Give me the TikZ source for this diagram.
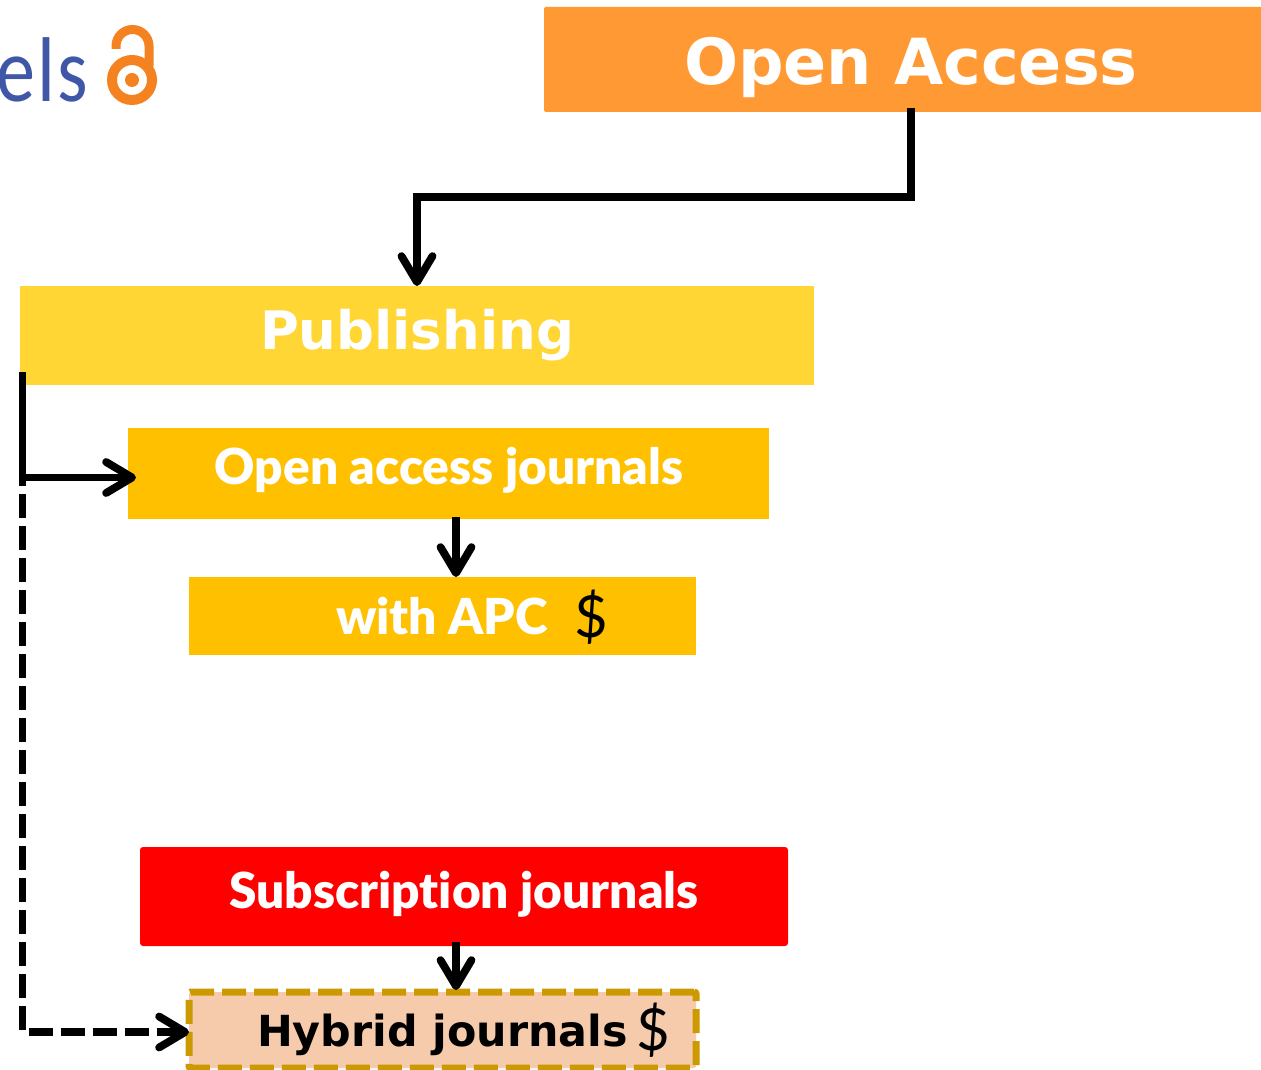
\documentclass[tikz,border=0pt]{standalone}
\usepackage{fontspec}
\usetikzlibrary{arrows.meta}
\setmainfont{DejaVu Sans}
\newfontfamily\gillfont{Lato}[BoldFont={Lato Black},RawFeature={-liga}]
\newfontfamily\dollarfont{Lato}
\newfontfamily\logofont{Carlito}[FakeStretch=0.85,LetterSpace=2]
\definecolor{oaorange}{HTML}{FF9933}
\definecolor{pubyellow}{HTML}{FFD633}
\definecolor{journalamber}{HTML}{FFC000}
\definecolor{hybridfill}{HTML}{F6CBAC}
\definecolor{hybridline}{HTML}{CC9900}
\definecolor{lockorange}{HTML}{F58220}
\definecolor{logoblue}{HTML}{3F57A6}

\begin{document}
\begin{tikzpicture}[
x=0.5pt, y=-0.5pt,
stepbox/.style={inner sep=0pt, outer sep=0pt},
title/.style={anchor=base, inner sep=0pt, text=white, font=\bfseries\fontsize{31.8}{36}\selectfont},
gilltitle/.style={anchor=base, inner sep=0pt, text=white, font=\gillfont\bfseries\fontsize{24.8}{30}\selectfont},
dollar/.style={anchor=base, inner sep=0pt, font=\dollarfont\fontsize{29}{36}\selectfont},
link/.style={line width=3.9pt, -{Straight Barb[length=13pt,width=15.5pt,round]}},
dashlink/.style={link, dash pattern=on 12pt off 4pt}
]
\useasboundingbox (0,0) rectangle (1261,1069);
\clip (0,0) rectangle (1261,1069);

% logo
\node[anchor=base east, inner sep=0pt, text=logoblue, font=\logofont\fontsize{46}{50}\selectfont](logo_text) at (88,102){els};
\draw[lockorange, line width=5pt] (132,80) circle (20);
\fill[lockorange] (132,80) circle (7);
\draw[lockorange, line width=4.5pt] (116,49) -- (116,46) arc (180:360:16.5) -- (149,66);

% boxes
\node[stepbox, fill=oaorange, rounded corners=1pt, minimum width=367pt, minimum height=52.5pt](open_access) at (911,59.5){};
\node[stepbox, fill=pubyellow, minimum width=397pt, minimum height=49.5pt](publishing) at (417,335.5){};
\node[stepbox, fill=journalamber, minimum width=320.5pt, minimum height=45.5pt](oa_journals) at (448.5,473.5){};
\node[stepbox, fill=journalamber, minimum width=253.5pt, minimum height=39pt](with_apc) at (442.5,616){};
\node[stepbox, fill=red, rounded corners=1.5pt, minimum width=324pt, minimum height=49.5pt](sub_journals) at (464,896.5){};
\node[stepbox, fill=hybridfill, draw=hybridline, line width=3.5pt, dash pattern=on 12pt off 4pt, rounded corners=1pt, minimum width=253.5pt, minimum height=38pt](hybrid) at (442.5,1030){};

% labels
\node[title](open_access_text) at (911,85){Open Access};
\node[title, font=\bfseries\fontsize{26.5}{32}\selectfont](publishing_text) at (417,349){Publishing};
\node[gilltitle](oa_journals_text) at (449,484){Open access journals};
\node[gilltitle](with_apc_text) at (442,634){with APC};
\node[dollar](apc_dollar) at (591,637){\$};
\node[gilltitle](sub_journals_text) at (464,908){Subscription journals};
\node[anchor=base, inner sep=0pt, font=\bfseries\fontsize{21.4}{26}\selectfont](hybrid_text) at (442.5,1046){Hybrid journals};
\node[dollar](hybrid_dollar) at (653,1050){\$};

% connectors
\coordinate (pub_bend) at (417,197);
\coordinate (pub_left) at (22.5,372);
\coordinate (dash_top) at (22.5,462);
\draw[link] ([yshift=2pt]open_access.south) |- (pub_bend) -- (publishing.north);
\draw[link, shorten >=-4pt] (pub_left) |- ([yshift=-2pt]oa_journals.west);
\draw[link] ([xshift=3.75pt,yshift=1pt]oa_journals.south) -- ([xshift=6.75pt]with_apc.north);
\draw[link] ([xshift=-4pt,yshift=2pt]sub_journals.south) -- ([xshift=6.75pt,yshift=1pt]hybrid.north);
\draw[dashlink] (dash_top) |- ([yshift=-1pt]hybrid.west);
\end{tikzpicture}
\end{document}
